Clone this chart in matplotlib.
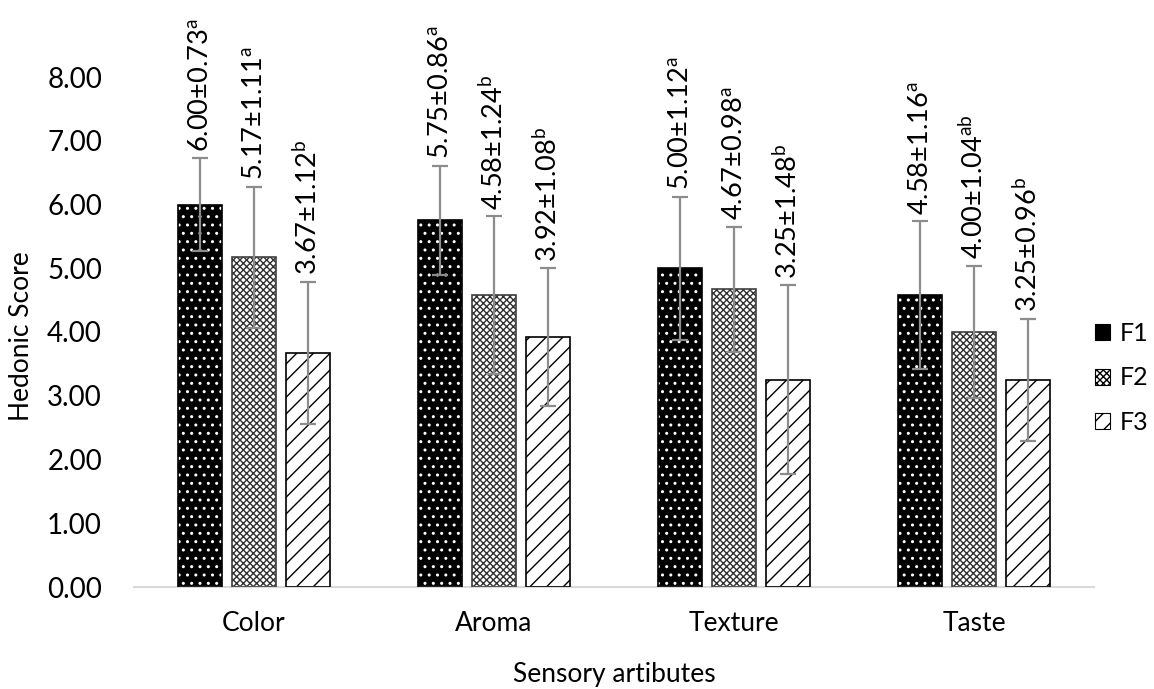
import matplotlib
matplotlib.use("Agg")
import matplotlib.pyplot as plt
import numpy as np

categories = ["Color", "Aroma", "Texture", "Taste"]
series_names = ["F1", "F2", "F3"]
f1_mean = [6.00, 5.75, 5.00, 4.58]
f1_sd = [0.73, 0.86, 1.12, 1.16]
f1_letters = ["a", "a", "a", "a"]
f2_mean = [5.17, 4.58, 4.67, 4.00]
f2_sd = [1.11, 1.24, 0.98, 1.04]
f2_letters = ["a", "b", "a", "ab"]
f3_mean = [3.67, 3.92, 3.25, 3.25]
f3_sd = [1.12, 1.08, 1.48, 0.96]
f3_letters = ["b", "b", "b", "b"]
yticks = [0, 1, 2, 3, 4, 5, 6, 7, 8]

plt.rcParams['font.family'] = ['Lato', 'DejaVu Sans']
plt.rcParams['mathtext.fontset'] = 'custom'
plt.rcParams['mathtext.rm'] = 'Lato'
plt.rcParams['mathtext.it'] = 'Lato:italic'
plt.rcParams['mathtext.bf'] = 'Lato:bold'
plt.rcParams['hatch.linewidth'] = 1.0

W, H = 1154, 689
fig = plt.figure(figsize=(W / 100, H / 100), dpi=100)
ax_l, ax_r, ax_t, ax_b = 134, 1094, 77, 587
ax = fig.add_axes([ax_l / W, 1 - ax_b / H, (ax_r - ax_l) / W, (ax_b - ax_t) / H])

x = np.arange(len(categories))
width = 0.18
offsets = [-0.225, 0.0, 0.225]
means = [f1_mean, f2_mean, f3_mean]
sds = [f1_sd, f2_sd, f3_sd]
letters = [f1_letters, f2_letters, f3_letters]
styles = [
    dict(facecolor="black", edgecolor="white", hatch="..", linewidth=0),
    dict(facecolor="white", edgecolor="#303030", hatch="xxxxx", linewidth=0),
    dict(facecolor="white", edgecolor="black", hatch="//", linewidth=0),
]
outline = ["black", "#404040", "black"]

handles = []
for i in range(3):
    xs = x + offsets[i]
    b = ax.bar(xs, means[i], width, **styles[i], zorder=2)
    ax.bar(xs, means[i], width, facecolor="none", edgecolor=outline[i], linewidth=1.2, zorder=3)
    ax.errorbar(xs, means[i], yerr=sds[i], fmt="none", ecolor="#8c8c8c",
                elinewidth=1.6, capsize=5.5, capthick=1.6, zorder=4)
    for xi, m, s, l in zip(xs, means[i], sds[i], letters[i]):
        ax.text(xi, m + s + 0.1, f"{m:.2f}\u00b1{s:.2f}" + r"$^{\mathrm{" + l + "}}$",
                rotation=90, ha="center", va="bottom", fontsize=19.5, clip_on=False,
                zorder=5)
    handles.append(b)

ax.set_xlim(-0.5, 3.5)
ax.set_ylim(0, 8)
ax.set_yticks(yticks)
ax.set_yticklabels([f"{v:.2f}" for v in yticks])
ax.set_xticks(x)
ax.set_xticklabels(categories)
ax.tick_params(axis="y", length=0, pad=23, labelsize=20)
ax.tick_params(axis="x", length=0, pad=17, labelsize=19)
for s in ["top", "right", "left"]:
    ax.spines[s].set_visible(False)
ax.spines["bottom"].set_color("#d9d9d9")
ax.spines["bottom"].set_linewidth(1.5)

fig.text(22 / W, 1 - 336 / H, "Hedonic Score", rotation=90, ha="center", va="center", fontsize=19)
fig.text((ax_l + ax_r) / 2 / W, 7 / H, "Sensory artibutes", ha="center", va="baseline", fontsize=19)

leg = fig.legend(handles, series_names, loc="center left",
                 bbox_to_anchor=(1095 / W, 1 - 378 / H), frameon=False, fontsize=18,
                 handlelength=0.6, handleheight=0.6, handletextpad=0.4, labelspacing=0.85,
                 borderpad=0, borderaxespad=0)
for p in leg.get_patches():
    p.set_linewidth(0.8)
    p.set_edgecolor("black")

fig.savefig("out.png", dpi=100)
